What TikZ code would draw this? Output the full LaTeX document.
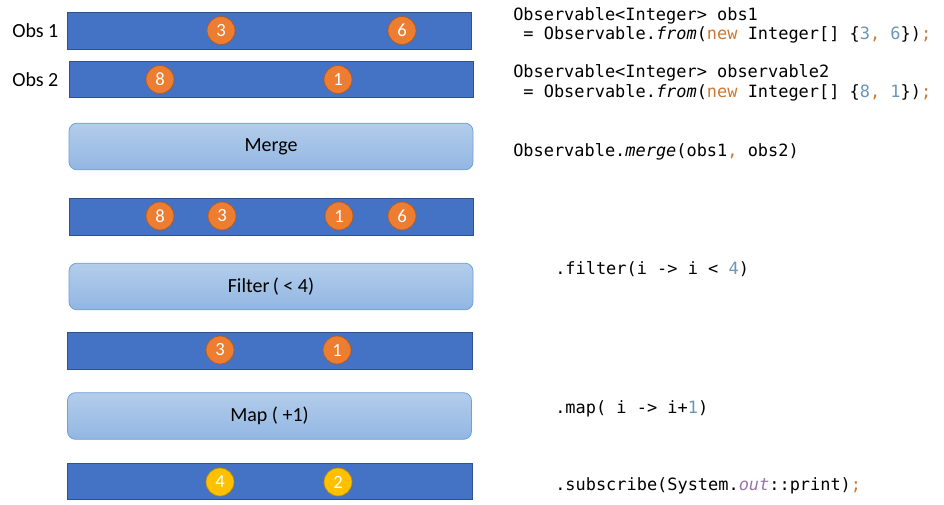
\documentclass[tikz,border=0pt]{standalone}
\usepackage{fontspec}
\setmainfont{Carlito}
\newfontfamily\codefont{DejaVu Sans Mono}
\usepackage{xcolor}

\definecolor{barblue}{HTML}{4472C4}
\definecolor{barline}{HTML}{2F528F}
\definecolor{dotorange}{HTML}{ED7D31}
\definecolor{dotline}{HTML}{AE5A21}
\definecolor{dotyellow}{HTML}{FFC000}
\definecolor{dotyline}{HTML}{BC8C00}
\definecolor{boxtop}{HTML}{B3CDEB}
\definecolor{boxbot}{HTML}{92B6E2}
\definecolor{boxline}{HTML}{6FA0D8}
\definecolor{kw}{HTML}{CC7832}
\definecolor{num}{HTML}{6897BB}
\definecolor{fld}{HTML}{9876AA}

\begin{document}
\begin{tikzpicture}[x=0.75pt,y=0.75pt,yscale=-1,xscale=1,
  bar/.style={draw=barline,fill=barblue,line width=0.5pt},
  opbox/.style={draw=boxline,rounded corners=6pt,top color=boxtop,bottom color=boxbot,line width=0.6pt,minimum width=303pt,minimum height=35pt,font=\fontsize{15}{18}\selectfont},
  item/.style={circle,draw=dotline,fill=dotorange,line width=0.5pt,minimum size=21pt,inner sep=0pt,text=white,font=\fontsize{14}{16}\selectfont},
  result/.style={item,draw=dotyline,fill=dotyellow},
  obslabel/.style={anchor=west,inner sep=0pt,font=\fontsize{15}{18}\selectfont},
  code/.style={anchor=base west,inner sep=0pt,font=\codefont\fontsize{12.7}{15}\selectfont}]
\useasboundingbox (0,0) rectangle (944,505);

%Shape: Rectangle [streams]
\draw[bar] (67,12) rectangle (471,49) ;
\draw[bar] (69,61) rectangle (473,97) ;
\draw[bar] (69,198) rectangle (473,235) ;
\draw[bar] (67,332) rectangle (472,369) ;
\draw[bar] (67,463) rectangle (472,499) ;

%Shape: Rounded Rect [operators]
\node[opbox] (merge) at (271,146.5) {Merge};
\node[opbox] (filter) at (271,286.5) {Filter\,( < 4)};
\node[opbox] (map) at (269.5,416) {Map ( +1)};

%Shape: Circle [items]
\node[item] (a3) at (221,30.5) {3};
\node[item] (a6) at (402,30.5) {6};
\node[item] (b8) at (160,79.5) {8};
\node[item] (b1) at (338,79.5) {1};
\node[item] (m8) at (160,216) {8};
\node[item] (m3) at (222,216) {3};
\node[item] (m1) at (339,216) {1};
\node[item] (m6) at (402,216) {6};
\node[item] (f3) at (220,350) {3};
\node[item] (f1) at (337,350) {1};
\node[result] (r4) at (220,482) {4};
\node[result] (r2) at (338,482) {2};

% Text Node
\node[obslabel] (obsA) at (12,31) {Obs 1};
\node[obslabel] (obsB) at (12,80) {Obs 2};

% Text Node
\node[code] (lineA) at (513,21) {Observable<Integer> obs1};
\node[code] (lineB) at (513,40) {\ = Observable.\textit{from}(\textcolor{kw}{new} Integer[] \{\textcolor{num}{3}\textcolor{kw}{,} \textcolor{num}{6}\})\textcolor{kw}{;}};
\node[code] (lineC) at (513,78) {Observable<Integer> observable2};
\node[code] (lineD) at (513,98) {\ = Observable.\textit{from}(\textcolor{kw}{new} Integer[] \{\textcolor{num}{8}\textcolor{kw}{,} \textcolor{num}{1}\})\textcolor{kw}{;}};
\node[code] (lineE) at (513,157) {Observable.\textit{merge}(obs1\textcolor{kw}{,} obs2)};
\node[code] (lineF) at (555,275) {.filter(i -> i < \textcolor{num}{4})};
\node[code] (lineG) at (555,413) {.map( i -> i+\textcolor{num}{1})};
\node[code] (lineH) at (555,490) {.subscribe(System.\textcolor{fld}{\textit{out}}::print)\textcolor{kw}{;}};

\end{tikzpicture}
\end{document}
